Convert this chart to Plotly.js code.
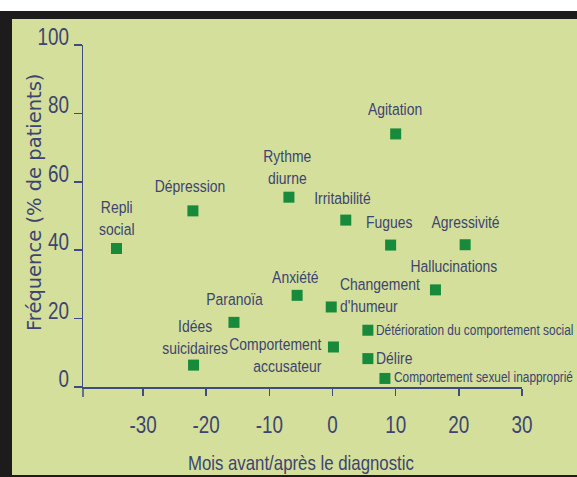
<!DOCTYPE html>
<html><head><meta charset="utf-8">
<script src="https://cdn.plot.ly/plotly-3.0.1.min.js"></script>
<style>
html,body{margin:0;padding:0;background:#ffffff;}
#frame{position:absolute;left:0;top:11px;width:577px;height:466px;background:#1d1b1b;}
#chart{position:absolute;left:12px;top:19px;width:565px;height:456px;}
</style></head><body>
<div id="frame"></div><div id="chart"></div>
<script>
// ---- data ----
const symptoms = [
  "Repli<br>social", "Dépression", "Idées<br>suicidaires", "Paranoïa",
  "Rythme<br>diurne", "Anxiété", "Changement<br>d'humeur", "Comportement<br>accusateur",
  "Irritabilité", "Agitation", "Fugues", "Agressivité",
  "Hallucinations", "Détérioration du comportement social", "Délire", "Comportement sexuel inapproprié"
];
const months = [-34.2, -22.1, -22.0, -15.6, -6.9, -5.6, -0.2, 0.15, 2.1, 10.0, 9.2, 21.0, 16.3, 5.6, 5.6, 8.3];
const frequency = [40.5, 51.5, 6.4, 18.9, 55.5, 26.8, 23.4, 11.7, 48.8, 74.0, 41.5, 41.6, 28.4, 16.6, 8.3, 2.5];
const xTickVals = [-30, -20, -10, 0, 10, 20, 30];
const xTickText = ["-30", "-20", "-10", "0", "10", "20", "30"];
const yTickVals = [0, 20, 40, 60, 80, 100];
const yTickText = ["0", "20", "40", "60", "80", "100"];
const xTitle = "Mois avant/après le diagnostic";
const yTitle = "Fréquence (% de patients)";

// ---- styling / label placement (pixels relative to marker) ----
const FONT = "'Liberation Sans', Arial, sans-serif";
const NARROW_SCALE = 0.82;
const TEXT = "#3d4472";
const AXIS = "#3f4c84";
const BG = "#d3df9a";
const labelPlace = [
  {xa:"center", dx:0,   dy:30,  size:17},
  {xa:"center", dx:-3,  dy:24,  size:17},
  {xa:"center", dx:1,   dy:28,  size:17},
  {xa:"center", dx:1,   dy:23,  size:17},
  {xa:"center", dx:-1,  dy:30,  size:17},
  {xa:"center", dx:-2,  dy:18,  size:17},
  {xa:"left",   dx:7,   dy:11,  size:17},
  {xa:"right",  dx:-9,  dy:-9,  size:17},
  {xa:"center", dx:-3,  dy:22,  size:17},
  {xa:"center", dx:-1,  dy:24,  size:17},
  {xa:"center", dx:-1,  dy:23,  size:17},
  {xa:"center", dx:0,   dy:22,  size:17},
  {xa:"center", dx:19,  dy:23,  size:17},
  {xa:"left",   dx:6,   dy:0,   size:14.5},
  {xa:"left",   dx:6,   dy:0,   size:17},
  {xa:"left",   dx:7,   dy:1,   size:14.5}
];

const W = 565, H = 456;
const M = {l:71, r:55, t:26, b:88};
const PW = W - M.l - M.r, PH = H - M.t - M.b;

const annotations = symptoms.map((s, i) => ({
  x: months[i], y: frequency[i], xref: "x", yref: "y",
  text: s, showarrow: false,
  xanchor: labelPlace[i].xa, yanchor: "middle", align: labelPlace[i].xa,
  xshift: labelPlace[i].dx, yshift: labelPlace[i].dy,
  font: {family: FONT, size: labelPlace[i].size, color: TEXT}
}));
annotations.push({
  xref: "paper", yref: "paper", x: (289 - M.l) / PW, y: (PH + M.t - 443) / PH,
  text: xTitle, showarrow: false, xanchor: "center", yanchor: "middle", align: "center",
  font: {family: FONT, size: 20.5, color: TEXT}
});
annotations.push({
  xref: "paper", yref: "paper", x: (22 - M.l) / PW, y: (PH + M.t - 184) / PH,
  text: yTitle, showarrow: false, xanchor: "center", yanchor: "middle", textangle: -90,
  font: {family: "'DejaVu Sans', sans-serif", size: 19.5, color: TEXT}
});

const trace = {
  x: months, y: frequency, type: "scatter", mode: "markers",
  marker: {symbol: "square", size: 11, color: "#178a3b", line: {width: 0}},
  cliponaxis: false, hoverinfo: "skip"
};

const layout = {
  width: W, height: H, margin: M,
  paper_bgcolor: BG, plot_bgcolor: BG, showlegend: false,
  xaxis: {
    range: [-39.5, 30], tickvals: xTickVals, ticktext: xTickText, ticks: "outside", ticklen: 7, tickwidth: 1.5, tickcolor: AXIS,
    showline: true, linecolor: AXIS, linewidth: 1.5, showgrid: false, zeroline: false,
    ticklabelstandoff: 10,
    tickfont: {family: FONT, size: 23, color: TEXT}, fixedrange: true
  },
  yaxis: {
    range: [0, 100], tickvals: yTickVals, ticktext: yTickText, ticks: "outside", ticklen: 8, tickwidth: 1.5, tickcolor: AXIS,
    showline: true, linecolor: AXIS, linewidth: 1.5, showgrid: false, zeroline: false,
    ticklabelshift: -8, ticklabelstandoff: 0,
    tickfont: {family: FONT, size: 23, color: TEXT}, fixedrange: true
  },
  shapes: [{
    type: "line", xref: "paper", yref: "paper", x0: 0, x1: 0, y0: 0, y1: -10 / PH,
    line: {color: AXIS, width: 1.5}
  }],
  annotations: annotations
};

// Horizontally condense text (the original uses a condensed typeface)
function condense(el, s) {
  const x = parseFloat(el.getAttribute("x") || "0");
  const tr = el.getAttribute("transform") || "";
  el.setAttribute("transform", tr + " translate(" + x + ",0) scale(" + s + ",1) translate(" + (-x) + ",0)");
}

Plotly.newPlot("chart", [trace], layout, {displayModeBar: false, staticPlot: true}).then(gd => {
  gd.querySelectorAll(".xtick text, .ytick text").forEach(t => condense(t, NARROW_SCALE));
  gd.querySelectorAll(".annotation-text").forEach(t => {
    if (t.textContent !== yTitle) condense(t, NARROW_SCALE);
  });
});
</script>
</body></html>
